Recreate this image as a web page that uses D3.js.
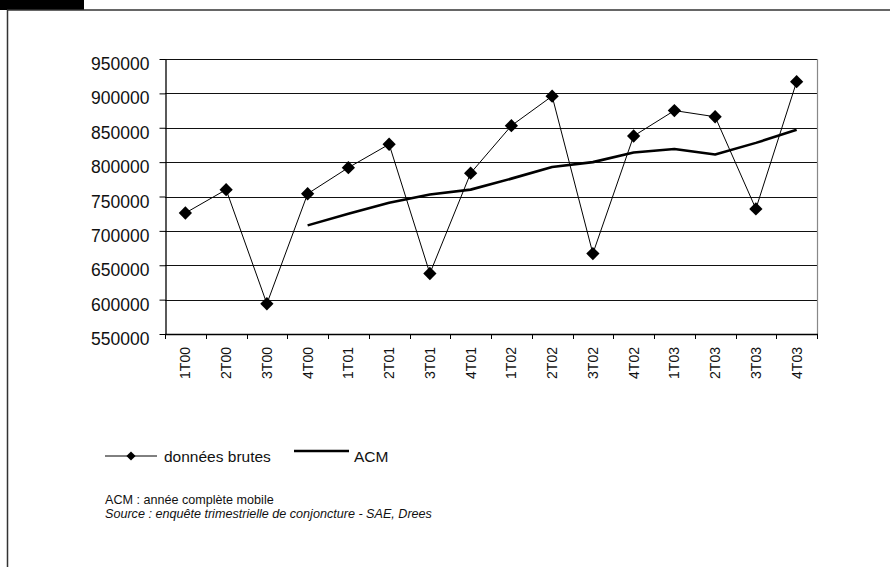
<!DOCTYPE html>
<html>
<head>
<meta charset="utf-8">
<script src="https://cdn.jsdelivr.net/npm/d3@7"></script>
<style>
  body { margin: 0; background: #fff; }
  svg { display: block; font-family: "Liberation Sans", Arial, sans-serif; }
</style>
</head>
<body>
<div id="main"></div>
<script>
// quarters of the survey
const quarters = ["1T00", "2T00", "3T00", "4T00", "1T01", "2T01", "3T01", "4T01",
                  "1T02", "2T02", "3T02", "4T02", "1T03", "2T03", "3T03", "4T03"];
// raw data ("données brutes")
const brutes = [726000, 760000, 594000, 754000, 792000, 826000, 638000, 784000,
                853000, 896000, 667000, 838000, 875000, 866000, 732000, 917000];
// moving full year (ACM), starts on 4T00
const acm = [null, null, null, 708000, 725000, 741000, 753000, 760000,
             776000, 793000, 800000, 814000, 819000, 811000, 828000, 847000];
const yTicks = [550000, 600000, 650000, 700000, 750000, 800000, 850000, 900000, 950000];

const ctx = {
    w: 890,
    h: 567,
    left: 165,
    right: 817,
    top: 59,
    bottom: 334
};

function createViz(){
    let svgEl = d3.select("#main").append("svg")
        .attr("width", ctx.w)
        .attr("height", ctx.h);

    // page frame
    svgEl.append("rect").attr("x", 0).attr("y", 0).attr("width", 84).attr("height", 10).attr("fill", "#000");
    svgEl.append("line").attr("x1", 7).attr("x2", ctx.w).attr("y1", 10).attr("y2", 10)
         .attr("stroke", "#333").attr("stroke-width", 1.5);
    svgEl.append("line").attr("x1", 7.5).attr("x2", 7.5).attr("y1", 10).attr("y2", ctx.h)
         .attr("stroke", "#333").attr("stroke-width", 1.5);

    let x = d3.scaleBand().domain(quarters).range([ctx.left, ctx.right]).padding(0);
    let y = d3.scaleLinear().domain([550000, 950000]).range([ctx.bottom, ctx.top]);
    let cx = (q) => x(q) + x.bandwidth() / 2;

    // grid
    svgEl.append("g").attr("id", "grid")
         .selectAll("line")
         .data(yTicks.slice(1))
         .enter()
         .append("line")
         .attr("x1", ctx.left).attr("x2", ctx.right)
         .attr("y1", d => Math.round(y(d)) + 0.5).attr("y2", d => Math.round(y(d)) + 0.5)
         .attr("stroke", "#111").attr("stroke-width", 1);

    // right border of plot area
    svgEl.append("line").attr("x1", ctx.right + 0.5).attr("x2", ctx.right + 0.5)
         .attr("y1", ctx.top).attr("y2", ctx.bottom)
         .attr("stroke", "#888").attr("stroke-width", 1.2);

    // y axis
    let yAxis = d3.axisLeft(y).tickValues(yTicks).tickSize(6).tickPadding(10).tickSizeOuter(0)
                  .tickFormat(d3.format("d"));
    let yG = svgEl.append("g").attr("transform", `translate(${ctx.left + 0.5},0)`).call(yAxis);
    yG.select(".domain").attr("stroke", "#000").attr("stroke-width", 1.3);
    yG.selectAll(".tick line").attr("stroke", "#000");
    yG.selectAll(".tick text")
      .attr("font-family", "'Liberation Sans', Arial, sans-serif")
      .attr("font-size", 17.5)
      .attr("fill", "#111")
      .attr("dy", "0.6em");

    // x axis
    let xG = svgEl.append("g").attr("id", "xaxis");
    xG.append("line").attr("x1", ctx.left).attr("x2", ctx.right + 1)
      .attr("y1", ctx.bottom + 0.5).attr("y2", ctx.bottom + 0.5)
      .attr("stroke", "#000").attr("stroke-width", 1.5);
    let bounds = quarters.map(q => x(q)).concat([ctx.right]);
    xG.selectAll("line.tk")
      .data(bounds)
      .enter()
      .append("line")
      .attr("class", "tk")
      .attr("x1", d => Math.round(d) + 0.5).attr("x2", d => Math.round(d) + 0.5)
      .attr("y1", ctx.bottom).attr("y2", ctx.bottom + 5)
      .attr("stroke", "#000").attr("stroke-width", 1);
    xG.selectAll("text")
      .data(quarters)
      .enter()
      .append("text")
      .attr("transform", d => `translate(${cx(d)},${ctx.bottom + 13}) rotate(-90)`)
      .attr("text-anchor", "end")
      .attr("dy", "0.36em")
      .attr("font-size", 14)
      .attr("fill", "#111")
      .text(d => d);

    // ACM line
    let acmLine = d3.line()
        .defined(d => d.v != null)
        .x(d => cx(d.q))
        .y(d => y(d.v));
    svgEl.append("path")
         .datum(quarters.map((q, i) => ({q: q, v: acm[i]})))
         .attr("d", acmLine)
         .attr("fill", "none")
         .attr("stroke", "#000")
         .attr("stroke-width", 2.6)
         .attr("stroke-linejoin", "round");

    // raw data line + diamonds
    let rawData = quarters.map((q, i) => ({q: q, v: brutes[i]}));
    svgEl.append("path")
         .datum(rawData)
         .attr("d", acmLine)
         .attr("fill", "none")
         .attr("stroke", "#000")
         .attr("stroke-width", 1);
    let diamond = d3.symbol().type(d3.symbolSquare).size(88);
    svgEl.append("g").attr("id", "markers")
         .selectAll("path")
         .data(rawData)
         .enter()
         .append("path")
         .attr("d", diamond)
         .attr("transform", d => `translate(${cx(d.q)},${y(d.v)}) rotate(45)`)
         .attr("fill", "#000");

    // legend
    let leg = svgEl.append("g").attr("id", "legend");
    leg.append("line").attr("x1", 105).attr("x2", 157).attr("y1", 456).attr("y2", 456)
       .attr("stroke", "#000").attr("stroke-width", 1);
    leg.append("path").attr("d", d3.symbol().type(d3.symbolSquare).size(42))
       .attr("transform", "translate(131,456) rotate(45)").attr("fill", "#000");
    leg.append("text").attr("x", 164).attr("y", 462).attr("font-size", 15.5).attr("fill", "#111")
       .text("données brutes");
    leg.append("line").attr("x1", 294).attr("x2", 349).attr("y1", 451).attr("y2", 451)
       .attr("stroke", "#000").attr("stroke-width", 2.6);
    leg.append("text").attr("x", 354).attr("y", 462).attr("font-size", 15.5).attr("fill", "#111")
       .text("ACM");

    // notes
    svgEl.append("text").attr("x", 105).attr("y", 504).attr("font-size", 12.6).attr("fill", "#111")
         .text("ACM : année complète mobile");
    svgEl.append("text").attr("x", 105).attr("y", 518).attr("font-size", 12.6).attr("fill", "#111")
         .attr("font-style", "italic")
         .text("Source : enquête trimestrielle de conjoncture - SAE, Drees");
}

createViz();
</script>
</body>
</html>
